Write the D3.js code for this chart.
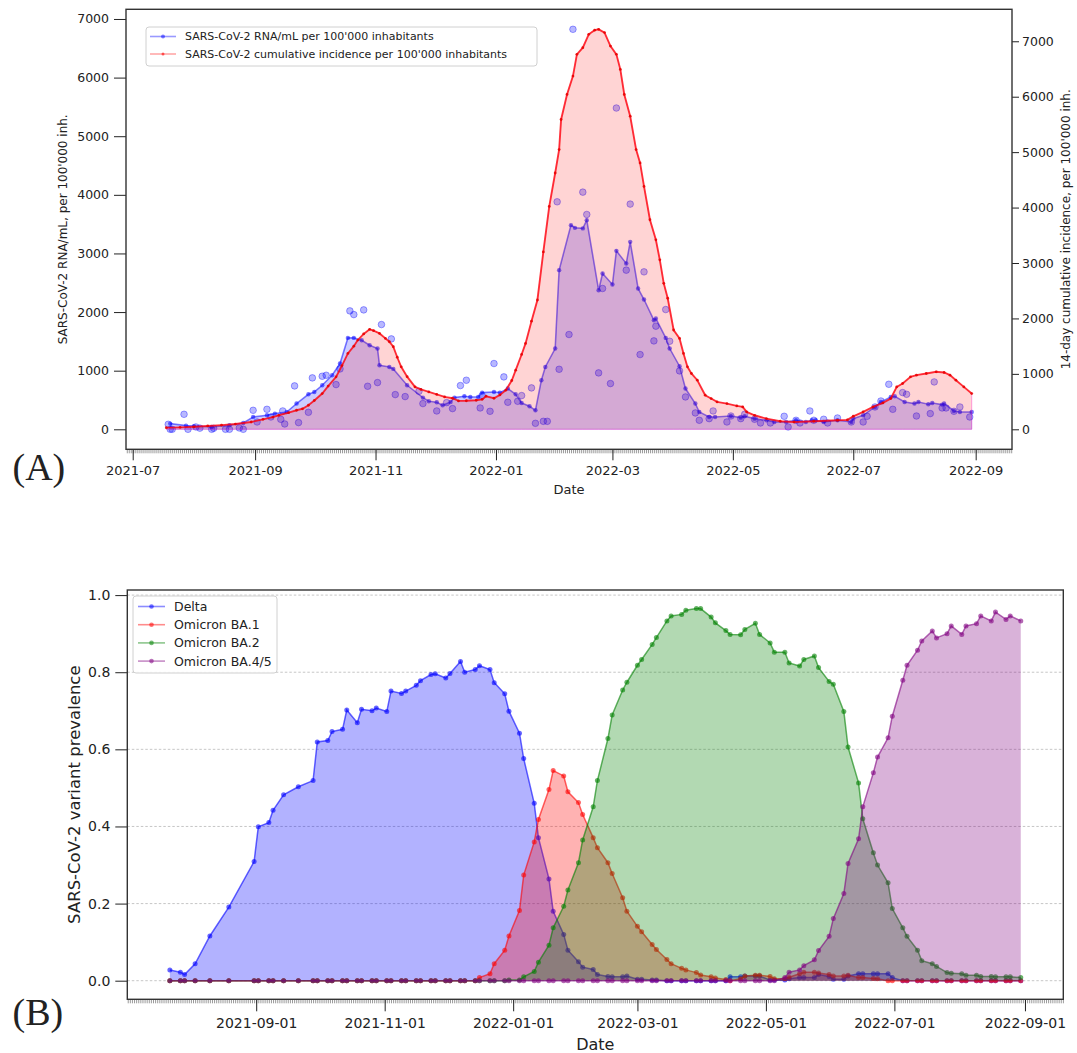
<!DOCTYPE html>
<html><head><meta charset="utf-8">
<script src="https://cdn.jsdelivr.net/npm/d3@7"></script>
<style>body{margin:0;background:#fff} svg text{font-family:"DejaVu Sans",sans-serif;fill:#222}</style>
</head><body><svg id="c" width="1077" height="1053"></svg>
<script>
// ---------------- DATA (panel A) ----------------
// 14-day cumulative incidence per 100'000 (right axis)
const incidenceDates = ["2021-07-18","2021-07-25","2021-08-01","2021-08-08","2021-08-15","2021-08-22","2021-08-30","2021-09-05","2021-09-10","2021-09-13","2021-09-18","2021-09-22","2021-09-25","2021-09-28","2021-10-01","2021-10-05","2021-10-08","2021-10-12","2021-10-15","2021-10-18","2021-10-21","2021-10-23","2021-10-26","2021-10-29","2021-10-31","2021-11-03","2021-11-06","2021-11-08","2021-11-10","2021-11-12","2021-11-14","2021-11-17","2021-11-21","2021-11-24","2021-11-28","2021-12-02","2021-12-06","2021-12-10","2021-12-13","2021-12-17","2021-12-22","2021-12-25","2021-12-27","2021-12-31","2022-01-03","2022-01-06","2022-01-09","2022-01-11","2022-01-14","2022-01-16","2022-01-19","2022-01-22","2022-01-25","2022-01-28","2022-01-31","2022-02-02","2022-02-03","2022-02-06","2022-02-09","2022-02-11","2022-02-14","2022-02-17","2022-02-20","2022-02-22","2022-02-25","2022-02-28","2022-03-03","2022-03-05","2022-03-07","2022-03-10","2022-03-13","2022-03-15","2022-03-17","2022-03-20","2022-03-23","2022-03-25","2022-03-27","2022-03-29","2022-04-01","2022-04-04","2022-04-06","2022-04-08","2022-04-10","2022-04-13","2022-04-17","2022-04-20","2022-04-23","2022-04-28","2022-05-03","2022-05-06","2022-05-08","2022-05-12","2022-05-18","2022-05-25","2022-06-01","2022-06-11","2022-06-23","2022-06-28","2022-07-01","2022-07-06","2022-07-11","2022-07-16","2022-07-20","2022-07-23","2022-07-26","2022-07-30","2022-08-02","2022-08-07","2022-08-12","2022-08-16","2022-08-19","2022-08-22","2022-08-26","2022-08-30"];
const incidenceValues = [30,35,45,60,75,95,132,180,220,253,300,344,370,434,520,645,780,946,1150,1369,1500,1610,1720,1803,1780,1730,1640,1579,1489,1300,1127,950,765,720,675,630,584,560,512,515,524,540,597,560,620,705,880,1067,1350,1549,1950,2333,3200,4021,4624,5046,5589,6041,6372,6764,6885,7126,7200,7216,7157,6914,6764,6493,6040,5648,5046,4805,4382,3780,3418,3057,2634,2364,1791,1640,1369,1127,1007,886,615,555,494,464,422,404,313,253,193,145,132,145,163,170,235,313,404,476,555,765,826,946,977,1007,1037,1025,977,886,765,645];

// SARS-CoV-2 RNA/mL per 100'000 (left axis) – smoothed line
const rnaDates = ["2021-07-20","2021-07-28","2021-08-01","2021-08-10","2021-08-19","2021-08-26","2021-08-31","2021-09-07","2021-09-11","2021-09-17","2021-09-22","2021-09-28","2021-10-01","2021-10-05","2021-10-10","2021-10-14","2021-10-18","2021-10-21","2021-10-25","2021-10-29","2021-11-02","2021-11-03","2021-11-08","2021-11-10","2021-11-17","2021-11-25","2021-11-28","2021-12-02","2021-12-05","2021-12-09","2021-12-11","2021-12-16","2021-12-19","2021-12-23","2021-12-25","2021-12-31","2022-01-03","2022-01-07","2022-01-11","2022-01-14","2022-01-18","2022-01-21","2022-01-24","2022-01-26","2022-01-31","2022-02-02","2022-02-08","2022-02-10","2022-02-14","2022-02-16","2022-02-22","2022-02-24","2022-03-01","2022-03-03","2022-03-08","2022-03-10","2022-03-14","2022-03-17","2022-03-22","2022-03-23","2022-03-28","2022-03-30","2022-04-04","2022-04-07","2022-04-12","2022-04-14","2022-04-19","2022-04-22","2022-04-30","2022-05-05","2022-05-07","2022-05-12","2022-05-18","2022-05-22","2022-05-28","2022-06-02","2022-06-07","2022-06-10","2022-06-12","2022-06-16","2022-06-23","2022-06-30","2022-07-01","2022-07-06","2022-07-12","2022-07-15","2022-07-20","2022-07-22","2022-07-27","2022-08-01","2022-08-03","2022-08-08","2022-08-10","2022-08-15","2022-08-16","2022-08-21","2022-08-24","2022-08-30"];
const rnaValues = [97,63,55,40,68,108,210,239,268,295,439,598,637,751,922,1122,1559,1559,1519,1434,1378,1093,1064,1030,751,541,478,461,410,466,541,564,552,552,626,637,626,695,598,449,393,324,837,1064,1378,2715,3483,3437,3427,3568,2373,2658,2470,3044,2829,3198,2402,2214,1861,1890,1559,1378,1076,695,439,295,210,210,227,199,222,182,154,125,125,154,125,154,154,125,154,125,182,239,381,466,552,564,466,439,466,427,449,421,439,313,295,295];

// raw RNA measurements (scatter)
const rawDates = ["2021-07-19","2021-07-20","2021-07-21","2021-07-27","2021-07-29","2021-08-02","2021-08-04","2021-08-10","2021-08-11","2021-08-17","2021-08-19","2021-08-24","2021-08-26","2021-08-31","2021-09-02","2021-09-07","2021-09-09","2021-09-14","2021-09-15","2021-09-16","2021-09-21","2021-09-23","2021-09-28","2021-09-30","2021-10-05","2021-10-07","2021-10-12","2021-10-14","2021-10-19","2021-10-21","2021-10-26","2021-10-28","2021-11-02","2021-11-04","2021-11-09","2021-11-11","2021-11-16","2021-11-23","2021-11-25","2021-12-02","2021-12-07","2021-12-10","2021-12-14","2021-12-17","2021-12-24","2021-12-25","2021-12-29","2021-12-31","2022-01-05","2022-01-07","2022-01-12","2022-01-14","2022-01-19","2022-01-21","2022-01-25","2022-01-27","2022-02-01","2022-02-02","2022-02-07","2022-02-09","2022-02-14","2022-02-16","2022-02-22","2022-02-24","2022-02-28","2022-03-03","2022-03-08","2022-03-10","2022-03-15","2022-03-17","2022-03-22","2022-03-23","2022-03-28","2022-03-30","2022-04-04","2022-04-07","2022-04-12","2022-04-14","2022-04-19","2022-04-21","2022-04-28","2022-04-30","2022-05-05","2022-05-07","2022-05-12","2022-05-15","2022-05-20","2022-05-27","2022-05-29","2022-06-02","2022-06-04","2022-06-09","2022-06-11","2022-06-16","2022-06-18","2022-06-23","2022-06-30","2022-07-06","2022-07-08","2022-07-12","2022-07-15","2022-07-19","2022-07-21","2022-07-26","2022-07-28","2022-08-02","2022-08-09","2022-08-11","2022-08-15","2022-08-17","2022-08-21","2022-08-24","2022-08-29"];
const rawValues = [85,0,0,256,0,40,20,0,17,0,0,23,0,324,125,341,210,170,313,91,740,114,290,877,905,922,763,1030,2020,1957,2037,734,797,1787,1542,592,558,649,439,313,455,353,746,837,364,575,307,1122,894,461,478,575,706,102,136,136,3881,1024,1617,6824,4046,3665,962,2402,780,5481,2715,3842,1275,2686,1508,1759,2043,1502,996,552,279,154,182,313,125,227,182,256,171,108,108,222,40,154,108,313,154,171,108,193,125,125,222,381,483,768,341,626,597,227,268,808,364,364,307,381,210];

const topTicksX = ["2021-07-01","2021-09-01","2021-11-01","2022-01-01","2022-03-01","2022-05-01","2022-07-01","2022-09-01"];
const topTicksY = [0,1000,2000,3000,4000,5000,6000,7000];

// ---------------- DATA (panel B) ----------------
const variantDates = ["2021-07-22","2021-07-27","2021-07-29","2021-08-03","2021-08-10","2021-08-19","2021-08-31","2021-09-02","2021-09-07","2021-09-09","2021-09-14","2021-09-21",
"2021-09-28","2021-09-30","2021-10-05","2021-10-07","2021-10-12","2021-10-14","2021-10-19","2021-10-21","2021-10-26","2021-10-28",
"2021-11-02","2021-11-04","2021-11-09","2021-11-11","2021-11-16","2021-11-18","2021-11-23","2021-11-25","2021-11-30","2021-12-02",
"2021-12-07","2021-12-09","2021-12-14","2021-12-16","2021-12-21","2021-12-23","2021-12-28","2021-12-30","2022-01-04","2022-01-06",
"2022-01-11","2022-01-13","2022-01-18","2022-01-20","2022-01-25","2022-01-27","2022-02-01","2022-02-03","2022-02-08","2022-02-10",
"2022-02-15","2022-02-17","2022-02-22","2022-02-24","2022-03-01","2022-03-03","2022-03-08","2022-03-10","2022-03-15","2022-03-17",
"2022-03-22","2022-03-24","2022-03-29","2022-03-31","2022-04-05","2022-04-07","2022-04-12","2022-04-14","2022-04-19","2022-04-21",
"2022-04-26","2022-04-28","2022-05-03","2022-05-05","2022-05-10","2022-05-12","2022-05-17","2022-05-19","2022-05-24","2022-05-26",
"2022-05-31","2022-06-02","2022-06-07","2022-06-09","2022-06-14","2022-06-16","2022-06-21","2022-06-23","2022-06-28","2022-06-30",
"2022-07-05","2022-07-07","2022-07-12","2022-07-14","2022-07-19","2022-07-21","2022-07-26","2022-07-28","2022-08-02","2022-08-04",
"2022-08-09","2022-08-11","2022-08-16","2022-08-18","2022-08-23","2022-08-25","2022-08-30"];

const delta = [0.028,0.022,0.016,0.044,0.116,0.191,0.309,0.399,0.410,0.442,0.482,0.503,
0.519,0.619,0.623,0.646,0.652,0.702,0.669,0.704,0.700,0.707,
0.698,0.751,0.745,0.751,0.766,0.778,0.794,0.796,0.785,0.797,
0.828,0.800,0.807,0.817,0.807,0.773,0.744,0.699,0.642,0.576,
0.460,0.371,0.264,0.180,0.120,0.079,0.049,0.035,0.029,0.016,
0.011,0.010,0.010,0.012,0.004,0.004,0.002,0.002,0,0,
0,0,0,0,0,0,0,0.010,0.010,0.012,
0.012,0.012,0.002,0.002,0.002,0.005,0.008,0.008,0.008,0.016,
0.011,0.004,0.004,0.012,0.018,0.018,0.018,0.018,0.018,0.008,
0,0,0,0,0,0,0,0,0,0,
0,0,0,0,0,0,0];

const ba1 = [0,0,0,0,0,0,0,0,0,0,0,0,
0,0,0,0,0,0,0,0,0,0,
0,0,0,0,0,0,0,0,0,0,
0,0,0,0.008,0.018,0.044,0.079,0.116,0.182,0.274,
0.360,0.418,0.496,0.545,0.531,0.490,0.462,0.431,0.371,0.345,
0.306,0.278,0.215,0.180,0.141,0.127,0.094,0.081,0.055,0.044,
0.032,0.028,0.021,0.015,0.010,0.007,0.003,0,0.005,0.012,
0.014,0.014,0.011,0.005,0.005,0.009,0.018,0.022,0.022,0.020,
0.016,0.012,0.012,0.014,0.008,0.008,0.006,0.005,0,0,
0,0,0,0,0,0,0,0,0,0,
0,0,0,0,0,0,0];

const ba2 = [0,0,0,0,0,0,0,0,0,0,0,0,
0,0,0,0,0,0,0,0,0,0,
0,0,0,0,0,0,0,0,0,0,
0,0,0,0,0,0,0,0.002,0.002,0.010,
0.024,0.048,0.092,0.137,0.193,0.235,0.306,0.365,0.451,0.519,
0.628,0.689,0.754,0.774,0.818,0.833,0.872,0.890,0.933,0.946,
0.950,0.961,0.965,0.965,0.943,0.928,0.908,0.898,0.897,0.911,
0.927,0.898,0.876,0.852,0.852,0.824,0.816,0.833,0.842,0.812,
0.776,0.769,0.698,0.606,0.513,0.420,0.332,0.300,0.254,0.187,
0.137,0.115,0.079,0.052,0.044,0.037,0.021,0.019,0.018,0.014,
0.014,0.011,0.011,0.010,0.010,0.010,0.008];

const ba45 = [0,0,0,0,0,0,0,0,0,0,0,0,
0,0,0,0,0,0,0,0,0,0,
0,0,0,0,0,0,0,0,0,0,
0,0,0,0,0,0,0,0,0,0,
0,0,0,0,0,0,0,0,0,0,
0,0,0,0,0,0,0,0,0,0,
0,0,0,0,0,0,0,0,0,0,
0,0,0,0,0.008,0.022,0.028,0.039,0.054,0.078,
0.115,0.161,0.226,0.304,0.368,0.451,0.539,0.580,0.630,0.686,
0.779,0.818,0.857,0.881,0.907,0.889,0.900,0.920,0.898,0.920,
0.926,0.946,0.933,0.956,0.937,0.946,0.933];

const variantNames = ["Delta","Omicron BA.1","Omicron BA.2","Omicron BA.4/5"];
const variantColors = ["0,0,255","255,0,0","0,128,0","128,0,128"];
const bottomTicksX = ["2021-09-01","2021-11-01","2022-01-01","2022-03-01","2022-05-01","2022-07-01","2022-09-01"];
const bottomTicksY = [0,0.2,0.4,0.6,0.8,1.0];

// ---------------- DRAW ----------------
const parse = d3.timeParse("%Y-%m-%d");
const svg = d3.select("#c");
const pad = (lo, hi) => { const s = hi - lo; return [lo - 0.05*s, hi + 0.05*s]; };
const rgba = (c,a) => `rgba(${c},${a})`;

// ===== Panel A =====
const A = {l:126, r:1012, t:9.3, b:449.3};
const inc = incidenceDates.map((d,i)=>({date:parse(d), v:incidenceValues[i]}));
const rna = rnaDates.map((d,i)=>({date:parse(d), v:rnaValues[i]}));
const raw = rawDates.map((d,i)=>({date:parse(d), v:rawValues[i]}));

const tExt = d3.extent(inc.concat(rna, raw), d=>d.date.getTime());
const xA = d3.scaleTime().domain(pad(tExt[0], tExt[1]).map(t=>new Date(t))).range([A.l, A.r]);
const yL = d3.scaleLinear().domain(pad(0, d3.max(raw.concat(rna), d=>d.v))).range([A.b, A.t]);
const yR = d3.scaleLinear().domain(pad(0, d3.max(inc, d=>d.v))).range([A.b, A.t]);

const gA = svg.append("g");
// blue fill + line
gA.append("path").datum(rna)
  .attr("d", d3.area().x(d=>xA(d.date)).y0(yL(0)).y1(d=>yL(d.v)))
  .attr("fill", "rgba(0,0,255,0.2)").attr("stroke","rgba(0,0,255,0.15)").attr("stroke-width",1);
gA.append("path").datum(rna)
  .attr("d", d3.line().x(d=>xA(d.date)).y(d=>yL(d.v)))
  .attr("fill","none").attr("stroke","rgba(0,0,255,0.45)").attr("stroke-width",1.6);
gA.selectAll(".rnaDot").data(rna).enter().append("circle")
  .attr("cx", d=>xA(d.date)).attr("cy", d=>yL(d.v)).attr("r",2.2).attr("fill","rgba(0,0,255,0.55)");
gA.selectAll(".rawDot").data(raw).enter().append("circle")
  .attr("cx", d=>xA(d.date)).attr("cy", d=>yL(d.v)).attr("r",3.3)
  .attr("fill","rgba(0,0,255,0.28)").attr("stroke","rgba(0,0,255,0.35)").attr("stroke-width",1);
// red fill + line
gA.append("path").datum(inc)
  .attr("d", d3.area().x(d=>xA(d.date)).y0(yR(0)).y1(d=>yR(d.v)))
  .attr("fill", "rgba(255,0,0,0.17)").attr("stroke","rgba(255,0,180,0.35)").attr("stroke-width",1);
gA.append("path").datum(inc)
  .attr("d", d3.line().x(d=>xA(d.date)).y(d=>yR(d.v)))
  .attr("fill","none").attr("stroke","rgba(255,0,0,0.75)").attr("stroke-width",1.9);
gA.selectAll(".incDot").data(inc).enter().append("circle")
  .attr("cx", d=>xA(d.date)).attr("cy", d=>yR(d.v)).attr("r",1.4).attr("fill","rgba(230,0,0,0.85)");

// axes A
const styleAxis = (g, fs) => { g.selectAll("path.domain").remove(); g.selectAll("line").attr("stroke","#222"); g.selectAll("text").style("font-size", fs+"px").attr("fill","#222"); };
gA.append("g").attr("transform",`translate(0,${A.b})`)
  .call(d3.axisBottom(xA).ticks(d3.timeDay.every(1)).tickSize(4).tickFormat(""))
  .call(g=>{g.selectAll("path.domain").remove(); g.selectAll("line").attr("stroke","#555").attr("stroke-width",0.6);});
gA.append("g").attr("transform",`translate(0,${A.b})`)
  .call(d3.axisBottom(xA).tickValues(topTicksX.map(parse)).tickFormat(d3.timeFormat("%Y-%m")).tickSize(11).tickPadding(5.5))
  .call(g=>styleAxis(g,13));
gA.append("g").attr("transform",`translate(${A.l},0)`)
  .call(d3.axisLeft(yL).tickValues(topTicksY).tickFormat(d3.format("d")).tickSize(12).tickPadding(5))
  .call(g=>styleAxis(g,12.5));
gA.append("g").attr("transform",`translate(${A.r},0)`)
  .call(d3.axisRight(yR).tickValues(topTicksY).tickFormat(d3.format("d")).tickSize(7).tickPadding(3))
  .call(g=>styleAxis(g,12.5));
gA.append("rect").attr("x",A.l).attr("y",A.t).attr("width",A.r-A.l).attr("height",A.b-A.t)
  .attr("fill","none").attr("stroke","#333").attr("stroke-width",1.4);

gA.append("text").attr("transform",`translate(62.5,${(A.t+A.b)/2}) rotate(-90)`)
  .attr("text-anchor","middle").attr("dominant-baseline","central").style("font-size","12px")
  .text("SARS-CoV-2 RNA/mL, per 100'000 inh.");
gA.append("text").attr("transform",`translate(1066,${(A.t+A.b)/2}) rotate(-90)`)
  .attr("text-anchor","middle").attr("dominant-baseline","central").style("font-size","12px")
  .text("14-day cumulative incidence, per 100'000 inh.");
gA.append("text").attr("x",(A.l+A.r)/2).attr("y",494).attr("text-anchor","middle").style("font-size","13px").text("Date");
gA.append("text").attr("x",12.5).attr("y",480).style("font-family","'Liberation Serif',serif").style("font-size","38px").text("(A)");

// legend A
const legA = gA.append("g");
legA.append("rect").attr("x",146).attr("y",27).attr("width",391).attr("height",39).attr("rx",3)
  .attr("fill","rgba(255,255,255,0.85)").attr("stroke","#d0d0d0");
const legAItems = [
  {label:"SARS-CoV-2 RNA/mL per 100'000 inhabitants", line:"rgba(0,0,255,0.4)", dot:"rgba(0,0,255,0.5)", r:2},
  {label:"SARS-CoV-2 cumulative incidence per 100'000 inhabitants", line:"rgba(255,0,0,0.35)", dot:"rgba(255,0,0,0.6)", r:1.5}
];
legAItems.forEach((it,i)=>{
  const y = 36.5 + i*17.5;
  legA.append("line").attr("x1",150).attr("x2",176).attr("y1",y).attr("y2",y).attr("stroke",it.line).attr("stroke-width",1.6);
  legA.append("circle").attr("cx",163).attr("cy",y).attr("r",it.r).attr("fill",it.dot);
  legA.append("text").attr("x",185).attr("y",y).attr("dominant-baseline","central").style("font-size","11px").text(it.label);
});

// ===== Panel B =====
const B = {l:127.3, r:1063.3, t:590, b:999.3};
const vDates = variantDates.map(parse);
const series = [delta, ba1, ba2, ba45].map((vals,k)=>({name:variantNames[k], color:variantColors[k], pts: vals.map((v,i)=>({date:vDates[i], v}))}));
const xB = d3.scaleTime().domain(pad(d3.min(vDates).getTime(), d3.max(vDates).getTime()).map(t=>new Date(t))).range([B.l, B.r]);
const yB = d3.scaleLinear().domain(pad(0, d3.max(series.flatMap(s=>s.pts), d=>d.v))).range([B.b, B.t]);

const gB = svg.append("g");
// grid
gB.selectAll(".grid").data(bottomTicksY).enter().append("line")
  .attr("x1",B.l).attr("x2",B.r).attr("y1",d=>yB(d)).attr("y2",d=>yB(d))
  .attr("stroke","#b8b8b8").attr("stroke-width",0.8).attr("stroke-dasharray","2.5,2");
series.forEach(s=>{
  gB.append("path").datum(s.pts)
    .attr("d", d3.area().x(d=>xB(d.date)).y0(yB(0)).y1(d=>yB(d.v)))
    .attr("fill", rgba(s.color,0.3));
  gB.append("path").datum(s.pts)
    .attr("d", d3.line().x(d=>xB(d.date)).y(d=>yB(d.v)))
    .attr("fill","none").attr("stroke", rgba(s.color,0.6)).attr("stroke-width",1.5);
  gB.append("g").selectAll("circle").data(s.pts).enter().append("circle")
    .attr("cx", d=>xB(d.date)).attr("cy", d=>yB(d.v)).attr("r",2.5).attr("fill", rgba(s.color,0.6));
});
// axes B
gB.append("g").attr("transform",`translate(0,${B.b})`)
  .call(d3.axisBottom(xB).ticks(d3.timeDay.every(1)).tickSize(4).tickFormat(""))
  .call(g=>{g.selectAll("path.domain").remove(); g.selectAll("line").attr("stroke","#555").attr("stroke-width",0.6);});
gB.append("g").attr("transform",`translate(0,${B.b})`)
  .call(d3.axisBottom(xB).tickValues(bottomTicksX.map(parse)).tickFormat(d3.timeFormat("%Y-%m-%d")).tickSize(12).tickPadding(7))
  .call(g=>styleAxis(g,14));
gB.append("g").attr("transform",`translate(${B.l},0)`)
  .call(d3.axisLeft(yB).tickValues(bottomTicksY).tickFormat(d3.format(".1f")).tickSize(12).tickPadding(5))
  .call(g=>styleAxis(g,14));
gB.append("rect").attr("x",B.l).attr("y",B.t).attr("width",B.r-B.l).attr("height",B.b-B.t)
  .attr("fill","none").attr("stroke","#333").attr("stroke-width",1.4);
gB.append("text").attr("transform",`translate(74,${(B.t+B.b)/2}) rotate(-90)`)
  .attr("text-anchor","middle").attr("dominant-baseline","central").style("font-size","16.5px")
  .text("SARS-CoV-2 variant prevalence");
gB.append("text").attr("x",(B.l+B.r)/2).attr("y",1050).attr("text-anchor","middle").style("font-size","16px").text("Date");
gB.append("text").attr("x",12.5).attr("y",1025).style("font-family","'Liberation Serif',serif").style("font-size","38px").text("(B)");

// legend B
const legB = gB.append("g");
legB.append("rect").attr("x",133).attr("y",596).attr("width",144).attr("height",77).attr("rx",3)
  .attr("fill","rgba(255,255,255,0.85)").attr("stroke","#d0d0d0");
series.forEach((s,i)=>{
  const y = 606.5 + i*18.2;
  legB.append("line").attr("x1",138).attr("x2",165).attr("y1",y).attr("y2",y).attr("stroke",rgba(s.color,0.45)).attr("stroke-width",1.6);
  legB.append("circle").attr("cx",151.5).attr("cy",y).attr("r",2.3).attr("fill",rgba(s.color,0.55));
  legB.append("text").attr("x",174).attr("y",y).attr("dominant-baseline","central").style("font-size","12.5px").text(s.name);
});
</script></body></html>
